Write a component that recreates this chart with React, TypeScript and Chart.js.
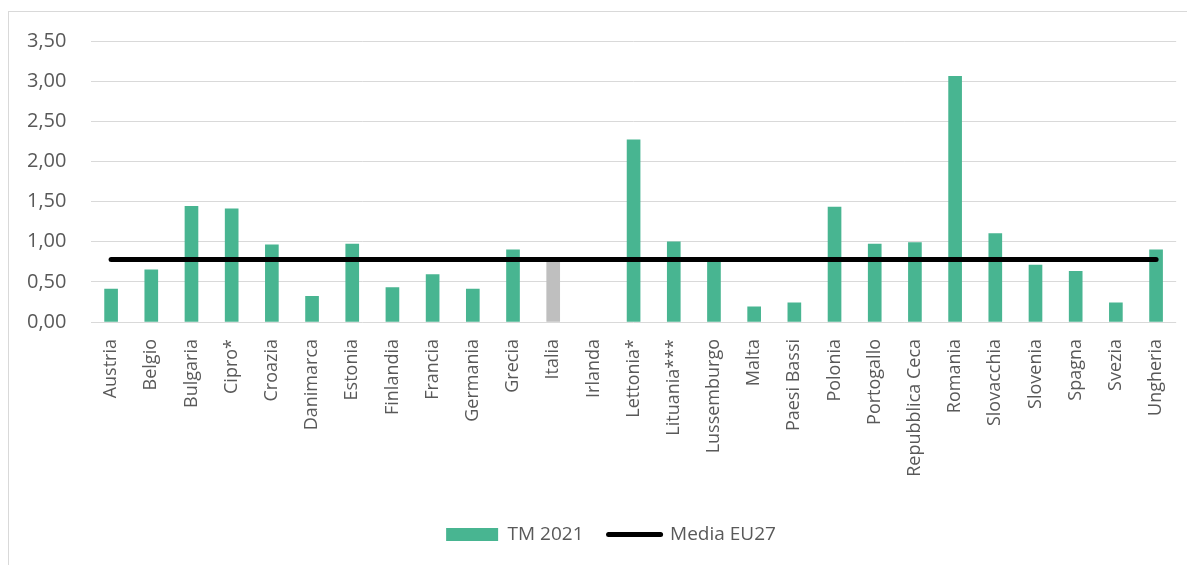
import React, { useEffect, useRef } from "react";
import { Chart, registerables } from "chart.js";

Chart.register(...registerables);

const categories = [
  "Austria", "Belgio", "Bulgaria", "Cipro*", "Croazia", "Danimarca", "Estonia",
  "Finlandia", "Francia", "Germania", "Grecia", "Italia", "Irlanda", "Lettonia*",
  "Lituania***", "Lussemburgo", "Malta", "Paesi Bassi", "Polonia", "Portogallo",
  "Repubblica Ceca", "Romania", "Slovacchia", "Slovenia", "Spagna", "Svezia", "Ungheria",
];

const tm2021: (number | null)[] = [
  0.41, 0.65, 1.44, 1.41, 0.96, 0.32, 0.97,
  0.43, 0.59, 0.41, 0.90, 0.77, null, 2.27,
  1.00, 0.76, 0.19, 0.24, 1.43, 0.97,
  0.99, 3.06, 1.10, 0.71, 0.63, 0.24, 0.90,
];

const mediaEU27Value = 0.78;
const mediaEU27 = categories.map(() => mediaEU27Value);

const highlightCategory = "Italia";
const seriesNames = ["TM 2021", "Media EU27"];

const GREEN = "#48B591";
const GREY = "#BFBFBF";
const TEXT = "#595959";
const GRID = "#D9D9D9";
const FONT = "'Open Sans', sans-serif";

const legendShift = {
  id: "legendShift",
  afterLayout(chart: any) {
    if (chart.legend) {
      chart.legend.left += 9;
      chart.legend.right += 9;
    }
  },
};

export default function App() {
  const ref = useRef<HTMLCanvasElement>(null);

  useEffect(() => {
    if (!ref.current) return;
    const chart = new Chart(ref.current, {
      type: "bar",
      data: {
        labels: categories,
        datasets: [
          {
            type: "bar",
            label: seriesNames[0],
            data: tm2021,
            backgroundColor: categories.map((c) => (c === highlightCategory ? GREY : GREEN)),
            borderWidth: 0,
            barThickness: 13,
            order: 1,
          },
          {
            type: "line",
            label: seriesNames[1],
            data: mediaEU27,
            borderColor: "#000000",
            backgroundColor: "#000000",
            borderWidth: 5,
            borderCapStyle: "round",
            pointRadius: 0,
            pointHoverRadius: 0,
            fill: false,
            order: 0,
          },
        ],
      },
      plugins: [legendShift],
      options: {
        responsive: false,
        animation: false,
        layout: { padding: { top: 29, right: 18, bottom: 15, left: 18 } },
        plugins: {
          tooltip: { enabled: false },
          legend: {
            position: "bottom",
            labels: {
              color: TEXT,
              font: { family: FONT, size: 19 },
              usePointStyle: true,
              pointStyleWidth: 52,
              boxHeight: 13,
              padding: 25,
              generateLabels: (ch) =>
                ch.data.datasets.map((ds, i) => {
                  const isLine = (ds as any).type === "line";
                  return {
                    text: ds.label as string,
                    datasetIndex: i,
                    fillStyle: isLine ? "#000000" : GREEN,
                    strokeStyle: "#000000",
                    lineWidth: isLine ? 5 : 0,
                    lineCap: "round",
                    pointStyle: isLine ? "line" : "rect",
                    fontColor: TEXT,
                    hidden: false,
                  } as any;
                }),
            },
          },
        },
        scales: {
          x: {
            grid: { display: false, drawTicks: false },
            border: { display: false },
            ticks: {
              color: TEXT,
              font: { family: FONT, size: 18 },
              maxRotation: 90,
              minRotation: 90,
              padding: 17,
              autoSkip: false,
            },
            afterFit: (scale: any) => {
              scale.height = 178;
            },
          },
          y: {
            min: 0,
            max: 3.5,
            grid: { color: GRID, lineWidth: 1, drawTicks: false },
            border: { display: false },
            ticks: {
              stepSize: 0.5,
              color: TEXT,
              font: { family: FONT, size: 20 },
              padding: 0,
              crossAlign: "far",
              callback: (v: any) => Number(v).toFixed(2).replace(".", ","),
            },
            afterFit: (scale: any) => {
              scale.width = 64;
            },
          },
        },
      },
    });
    return () => chart.destroy();
  }, []);

  return (
    <div
      style={{
        marginTop: 3,
        width: 1200,
        height: 600,
        border: `1px solid ${GRID}`,
        boxSizing: "border-box",
        background: "#fff",
      }}
    >
      <canvas ref={ref} width={1186} height={557} style={{ display: "block" }} />
    </div>
  );
}
